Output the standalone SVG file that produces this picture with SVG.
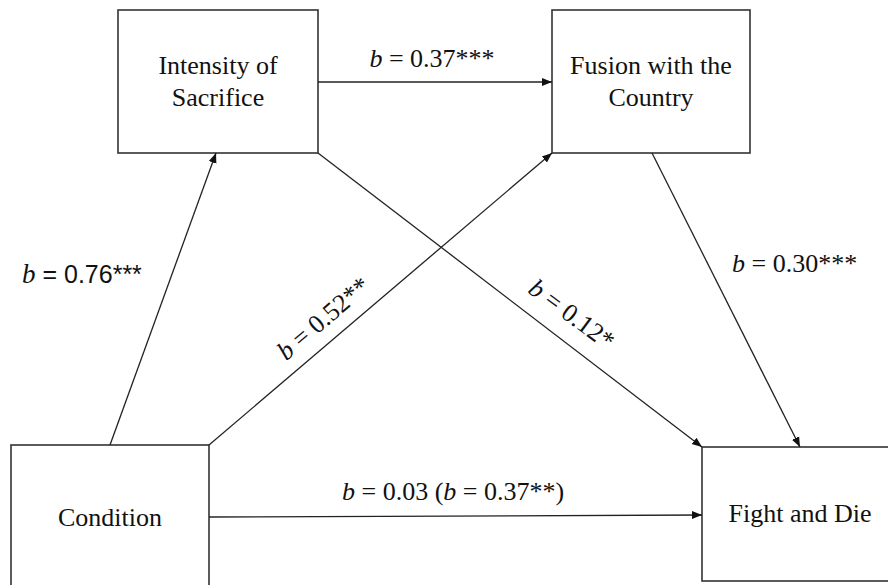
<svg xmlns="http://www.w3.org/2000/svg" width="888" height="585" viewBox="0 0 888 585">
<style>
.box{fill:#fff;stroke:#333;stroke-width:1.6}
.lbl{font-family:"Liberation Serif","Times New Roman",serif;font-size:26px;fill:#111}
.sans{font-family:"Liberation Sans",Arial,sans-serif;font-size:25px;fill:#111}
.it{font-style:italic}
.ln{stroke:#222;stroke-width:1.3;fill:none;marker-end:url(#ah)}
</style>
<defs>
<marker id="ah" viewBox="0 0 10 10" refX="10" refY="5" markerWidth="10" markerHeight="10" markerUnits="userSpaceOnUse" orient="auto">
<path d="M0,1 L10,5 L0,9 Z" fill="#111"/>
</marker>
</defs>
<rect width="888" height="585" fill="#fff"/>
<g id="intensity">
<rect class="box" x="118" y="10" width="200" height="143"/>
<text class="lbl" x="218" y="74" text-anchor="middle">Intensity of</text>
<text class="lbl" x="218" y="106" text-anchor="middle">Sacrifice</text>
</g>
<g id="fusion">
<rect class="box" x="552" y="10" width="198" height="143"/>
<text class="lbl" x="651" y="74" text-anchor="middle">Fusion with the</text>
<text class="lbl" x="651" y="106" text-anchor="middle">Country</text>
</g>
<g id="condition">
<rect class="box" x="11" y="445" width="198" height="150"/>
<text class="lbl" x="110" y="526" text-anchor="middle">Condition</text>
</g>
<g id="fight">
<rect class="box" x="702" y="447" width="200" height="134"/>
<text class="lbl" x="800" y="522" text-anchor="middle">Fight and Die</text>
</g>
<g id="connectors">
<line class="ln" x1="110" y1="445" x2="216" y2="153"/>
<line class="ln" x1="209" y1="445" x2="552" y2="153"/>
<line class="ln" x1="209" y1="517" x2="702" y2="515"/>
<line class="ln" x1="318" y1="82" x2="552" y2="82"/>
<line class="ln" x1="318" y1="153" x2="702" y2="447"/>
<line class="ln" x1="652" y1="153" x2="800" y2="447"/>
</g>
<g id="labels">
<text class="lbl" x="432" y="67" text-anchor="middle"><tspan class="it">b</tspan> = 0.37***</text>
<text class="sans" x="22" y="283"><tspan class="it" font-family="Liberation Serif, serif" font-size="27">b</tspan> = 0.76***</text>
<text class="lbl" x="732" y="272"><tspan class="it">b</tspan> = 0.30***</text>
<text class="lbl" x="342" y="500"><tspan class="it">b</tspan> = 0.03 (<tspan class="it">b</tspan> = 0.37**)</text>
<text class="lbl" transform="translate(323,318) rotate(-40.4)" x="0" y="9" text-anchor="middle"><tspan class="it">b</tspan> = 0.52**</text>
<text class="lbl" transform="translate(572,314) rotate(36.5)" x="0" y="9" text-anchor="middle"><tspan class="it">b</tspan> = 0.12*</text>
</g>
</svg>
